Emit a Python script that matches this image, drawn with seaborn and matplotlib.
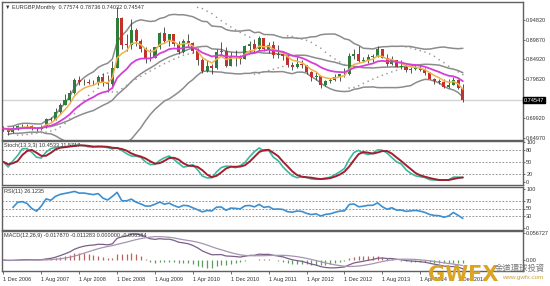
import numpy as np
import pandas as pd
import matplotlib
matplotlib.use("Agg")
import matplotlib.pyplot as plt
import seaborn as sns

# ---------------- data (EURGBP monthly, Dec 2006 .. Jan 2015) ----------------
months = pd.date_range("2006-12-01", "2015-01-01", freq="MS")

opens = [0.6740,
         0.6736, 0.6640, 0.6737, 0.6800, 0.6810, 0.6795, 0.6746, 0.6712, 0.6780, 0.6970, 0.6950, 0.7150,
         0.7340, 0.7470, 0.7640, 0.7960, 0.7910, 0.7920, 0.7900, 0.7880, 0.8050, 0.7920, 0.7860, 0.8260,
         0.9530, 0.8860, 0.8850, 0.9240, 0.8950, 0.8760, 0.8520, 0.8530, 0.8790, 0.9160, 0.8950, 0.9120,
         0.8870, 0.8680, 0.8950, 0.8900, 0.8690, 0.8460, 0.8180, 0.8320, 0.8270, 0.8680, 0.8700, 0.8330,
         0.8580, 0.8540, 0.8490, 0.8830, 0.8870, 0.8750, 0.9030, 0.8760, 0.8850, 0.8590, 0.8610, 0.8570,
         0.8340, 0.8300, 0.8380, 0.8340, 0.8160, 0.8030, 0.8070, 0.7840, 0.7930, 0.7960, 0.8040, 0.8110,
         0.8120, 0.8560, 0.8610, 0.8440, 0.8480, 0.8550, 0.8550, 0.8740, 0.8530, 0.8360, 0.8470, 0.8300,
         0.8300, 0.8210, 0.8240, 0.8260, 0.8220, 0.8140, 0.8000, 0.7930, 0.7910, 0.7790, 0.7830, 0.7960,
         0.77574]
highs = [0.6790,
         0.6760, 0.6790, 0.6830, 0.6850, 0.6860, 0.6830, 0.6780, 0.6830, 0.6990, 0.7040, 0.7250, 0.7390,
         0.7620, 0.7700, 0.8020, 0.8070, 0.8000, 0.7990, 0.7970, 0.8100, 0.8140, 0.8100, 0.8450, 0.9800,
         0.9570, 0.9120, 0.9500, 0.9270, 0.9000, 0.8790, 0.8760, 0.8800, 0.9190, 0.9310, 0.9140, 0.9130,
         0.8940, 0.8990, 0.9140, 0.8930, 0.8770, 0.8520, 0.8480, 0.8380, 0.8750, 0.8920, 0.8790, 0.8660,
         0.8720, 0.8600, 0.8850, 0.8960, 0.9000, 0.9080, 0.9020, 0.8920, 0.8940, 0.8860, 0.8700, 0.8600,
         0.8430, 0.8540, 0.8470, 0.8330, 0.8200, 0.8170, 0.8050, 0.7970, 0.8020, 0.8110, 0.8120, 0.8260,
         0.8640, 0.8750, 0.8815, 0.8540, 0.8610, 0.8620, 0.8815, 0.8730, 0.8620, 0.8570, 0.8480, 0.8460,
         0.8380, 0.8290, 0.8380, 0.8340, 0.8270, 0.8160, 0.8020, 0.8000, 0.7990, 0.7980, 0.8030, 0.7990,
         0.78736]
lows = [0.6680,
        0.6570, 0.6620, 0.6700, 0.6750, 0.6760, 0.6700, 0.6680, 0.6690, 0.6760, 0.6920, 0.6940, 0.7110,
        0.7320, 0.7370, 0.7620, 0.7840, 0.7830, 0.7850, 0.7840, 0.7840, 0.7820, 0.7660, 0.7770, 0.8280,
        0.8740, 0.8690, 0.8760, 0.8820, 0.8670, 0.8390, 0.8440, 0.8520, 0.8750, 0.8890, 0.8820, 0.8830,
        0.8620, 0.8640, 0.8830, 0.8640, 0.8340, 0.8130, 0.8160, 0.8110, 0.8250, 0.8600, 0.8300, 0.8310,
        0.8330, 0.8360, 0.8490, 0.8680, 0.8670, 0.8730, 0.8700, 0.8640, 0.8530, 0.8530, 0.8480, 0.8300,
        0.8220, 0.8280, 0.8280, 0.8120, 0.7950, 0.7970, 0.7760, 0.7800, 0.7880, 0.7930, 0.7950, 0.8040,
        0.8080, 0.8500, 0.8420, 0.8410, 0.8400, 0.8430, 0.8540, 0.8520, 0.8330, 0.8350, 0.8290, 0.8240,
        0.8160, 0.8150, 0.8220, 0.8200, 0.8080, 0.7990, 0.7860, 0.7870, 0.7760, 0.7760, 0.7840, 0.7740,
        0.74032]
closes = [0.6736,
          0.6640, 0.6737, 0.6800, 0.6810, 0.6795, 0.6746, 0.6712, 0.6780, 0.6970, 0.6950, 0.7150, 0.7340,
          0.7470, 0.7640, 0.7960, 0.7910, 0.7920, 0.7900, 0.7880, 0.8050, 0.7920, 0.7860, 0.8260, 0.9530,
          0.8860, 0.8850, 0.9240, 0.8950, 0.8760, 0.8520, 0.8530, 0.8790, 0.9160, 0.8950, 0.9120, 0.8870,
          0.8680, 0.8950, 0.8900, 0.8690, 0.8460, 0.8180, 0.8320, 0.8270, 0.8680, 0.8700, 0.8330, 0.8580,
          0.8540, 0.8490, 0.8830, 0.8870, 0.8750, 0.9030, 0.8760, 0.8850, 0.8590, 0.8610, 0.8570, 0.8340,
          0.8300, 0.8380, 0.8340, 0.8160, 0.8030, 0.8070, 0.7840, 0.7930, 0.7960, 0.8040, 0.8110, 0.8120,
          0.8560, 0.8610, 0.8440, 0.8480, 0.8550, 0.8550, 0.8740, 0.8530, 0.8360, 0.8470, 0.8300, 0.8300,
          0.8210, 0.8240, 0.8260, 0.8220, 0.8140, 0.8000, 0.7930, 0.7910, 0.7790, 0.7830, 0.7960, 0.77574,
          0.74547]

tick_labels = ["1 Dec 2006", "1 Aug 2007", "1 Apr 2008", "1 Dec 2008", "1 Aug 2009",
               "1 Apr 2010", "1 Dec 2010", "1 Aug 2011", "1 Apr 2012", "1 Dec 2012",
               "1 Aug 2013", "1 Apr 2014", "1 Dec 2014"]
price_ticks = [0.94820, 0.89870, 0.84920, 0.79820, 0.69920, 0.64970]
last_price = 0.74547

# ---------------- indicators ----------------
df = pd.DataFrame({"date": months, "open": opens, "high": highs, "low": lows, "close": closes})
df["i"] = np.arange(len(df))
c, h, l = df["close"], df["high"], df["low"]

mid = c.rolling(20, min_periods=2).mean()
sd = c.rolling(20, min_periods=2).std(ddof=0)
df["bb_up"], df["bb_mid"], df["bb_lo"] = mid + 2 * sd, mid, mid - 2 * sd
df["ma_fast"] = c.ewm(span=5, adjust=False).mean()
df["ma_slow"] = c.ewm(span=13, adjust=False).mean()


def psar(hh, ll, step=0.02, mx=0.2):
    hh, ll = np.asarray(hh), np.asarray(ll)
    n = len(hh)
    out = np.full(n, np.nan)
    bull, af, ep = True, step, hh[0]
    out[0] = ll[0]
    for k in range(1, n):
        s = out[k - 1] + af * (ep - out[k - 1])
        if bull:
            s = min(s, ll[k - 1], ll[max(k - 2, 0)])
            if ll[k] < s:
                bull, s, ep, af = False, ep, ll[k], step
            elif hh[k] > ep:
                ep, af = hh[k], min(af + step, mx)
        else:
            s = max(s, hh[k - 1], hh[max(k - 2, 0)])
            if hh[k] > s:
                bull, s, ep, af = True, ep, hh[k], step
            elif ll[k] < ep:
                ep, af = ll[k], min(af + step, mx)
        out[k] = s
    return out


df["sar"] = psar(h, l)

ll13 = l.rolling(13, min_periods=1).min()
hh13 = h.rolling(13, min_periods=1).max()
num = (c - ll13).rolling(3, min_periods=1).sum()
den = (hh13 - ll13).rolling(3, min_periods=1).sum()
df["stoch"] = 100 * num / den.replace(0, np.nan)
df["stoch_sig"] = df["stoch"].rolling(3, min_periods=1).mean()

d = c.diff()
up = d.clip(lower=0).ewm(alpha=1 / 11, adjust=True, min_periods=2).mean()
dn = (-d.clip(upper=0)).ewm(alpha=1 / 11, adjust=True, min_periods=2).mean()
df["rsi"] = 100 - 100 / (1 + up / dn.replace(0, np.nan))

df["macd"] = c.ewm(span=12, adjust=False).mean() - c.ewm(span=26, adjust=False).mean()
df["macd_sig"] = df["macd"].rolling(9, min_periods=1).mean()
df["osma"] = df["macd"] - df["macd_sig"]

# ---------------- figure ----------------
sns.set_style("white")
plt.rcParams["font.family"] = ["Liberation Sans", "DejaVu Sans"]
FS = 4.0
W, H = 550, 286
fig = plt.figure(figsize=(W / 100, H / 100), dpi=100)


def px_axes(x0, y0, x1, y1):
    return fig.add_axes([x0 / W, 1 - y1 / H, (x1 - x0) / W, (y1 - y0) / H])


ax_p = px_axes(2, 2, 523, 140)
ax_s = px_axes(2, 141, 523, 185)
ax_r = px_axes(2, 187, 523, 230)
ax_m = px_axes(2, 231, 523, 271)
xlim = (-0.3, 109.7)

for ax in (ax_p, ax_s, ax_r, ax_m):
    ax.set_xlim(*xlim)
    ax.set_facecolor("white")
    for sp in ax.spines.values():
        sp.set_color("#606060")
        sp.set_linewidth(1.0)
    ax.yaxis.tick_right()
    ax.tick_params(axis="y", which="both", length=1.5, width=0.5, pad=0.8,
                   labelsize=FS, colors="#333333", right=True, left=False)
    ax.tick_params(axis="x", length=0, labelbottom=False)
    ax.set_xlabel("")
    ax.set_ylabel("")

idx = df["i"].values

# ---- price panel ----
ax_p.set_ylim(0.6446, 0.9937)
ax_p.axhline(last_price, color="#d4d4d4", lw=1.0, zorder=1)
for col in ("bb_up", "bb_mid", "bb_lo"):
    sns.lineplot(x=idx, y=df[col].values, ax=ax_p, color="#8c8c8c", lw=1.1,
                 estimator=None, sort=False, legend=False, zorder=2)
sns.scatterplot(x=idx, y=df["sar"].values, ax=ax_p, s=1.4, color="#9a9a9a",
                edgecolor="none", legend=False, zorder=2)
bull = df["close"] >= df["open"]
body_lo = np.minimum(df["open"], df["close"])
body_h = np.maximum(np.abs(df["close"] - df["open"]), 0.0012)
ax_p.vlines(idx, df["low"], df["high"], color="#3a3a3a", lw=0.6, zorder=3)
ax_p.bar(idx, body_h, bottom=body_lo, width=0.64,
         color=np.where(bull, "#2f7d3a", "#c4302b"), edgecolor="none", zorder=4)
sns.lineplot(x=idx, y=df["ma_fast"].values, ax=ax_p, color="#f0b24e", lw=1.1,
             estimator=None, sort=False, legend=False, zorder=5)
sns.lineplot(x=idx, y=df["ma_slow"].values, ax=ax_p, color="#d63fd6", lw=1.3,
             estimator=None, sort=False, legend=False, zorder=6)
ax_p.set_yticks(price_ticks)
ax_p.set_yticklabels([f"{v:.5f}" for v in price_ticks])
ax_p.text(0.005, 0.975, "\u25bc EURGBP,Monthly  0.77574 0.78736 0.74032 0.74547",
          transform=ax_p.transAxes, fontsize=FS, color="#333333", va="top", ha="left",
          family=["Liberation Sans", "DejaVu Sans"])
ax_p.text(1.002, (last_price - 0.6446) / (0.9937 - 0.6446), f"{last_price:.5f}",
          transform=ax_p.transAxes, fontsize=FS, color="white", va="center", ha="left",
          bbox=dict(boxstyle="square,pad=0.15", fc="black", ec="black"), clip_on=False)

# ---- stochastic ----
ax_s.set_ylim(-7, 103)
for lv in (80, 50, 20):
    ax_s.axhline(lv, color="#808080", lw=0.6, ls=(0, (2, 2)), zorder=1)
sns.lineplot(x=idx, y=df["stoch"].values, ax=ax_s, color="#3cb8a0", lw=1.2,
             estimator=None, sort=False, legend=False, zorder=3)
sns.lineplot(x=idx, y=df["stoch_sig"].values, ax=ax_s, color="#a21f2e", lw=1.4,
             estimator=None, sort=False, legend=False, zorder=4)
ax_s.set_yticks([0, 20, 50, 80, 100])
ax_s.set_yticklabels(["0", "20", "50", "80", "100"])
ax_s.text(0.004, 0.95, "Stoch(13,3,3) 10.4533 11.5717", transform=ax_s.transAxes,
          fontsize=FS, color="#333333", va="top", ha="left")

# ---- RSI ----
ax_r.set_ylim(-4, 104)
for lv in (70, 50, 30):
    ax_r.axhline(lv, color="#808080", lw=0.6, ls=(0, (2, 2)), zorder=1)
sns.lineplot(x=idx, y=df["rsi"].values, ax=ax_r, color="#3d8fd0", lw=1.2,
             estimator=None, sort=False, legend=False, zorder=3)
ax_r.set_yticks([0, 30, 50, 70, 100])
ax_r.set_yticklabels(["0", "30", "50", "70", "100"])
ax_r.text(0.004, 0.95, "RSI(11) 26.1235", transform=ax_r.transAxes,
          fontsize=FS, color="#333333", va="top", ha="left")

# ---- MACD ----
ax_m.set_ylim(-0.0225, 0.0600)
hist = df["osma"].values
ax_m.vlines(idx, 0, hist, colors=np.where(hist >= 0, "#c0605a", "#5e9a5e"), lw=0.9, zorder=2)
sns.lineplot(x=idx, y=df["macd"].values, ax=ax_m, color="#7a5f88", lw=0.9,
             estimator=None, sort=False, legend=False, zorder=3)
sns.lineplot(x=idx, y=df["macd_sig"].values, ax=ax_m, color="#a594b2", lw=0.9,
             estimator=None, sort=False, legend=False, zorder=3)
ax_m.set_yticks([0.0, 0.056727])
ax_m.set_yticklabels(["0.00", "0.056727"])
ax_m.text(0.004, 0.95, "MACD(12,26,9) -0.017870 -0.011283 0.000000 -0.006584",
          transform=ax_m.transAxes, fontsize=FS, color="#333333", va="top", ha="left")
ax_m.set_xticks(list(range(0, 97, 8)))
ax_m.set_xticklabels(tick_labels, ha="left")
ax_m.tick_params(axis="x", length=2, width=0.5, pad=2, labelsize=FS,
                 colors="#333333", labelbottom=True, bottom=True)

# ---- watermark ----
fig.text(428 / W, 1 - 281 / H, "GWFX", fontsize=15, fontweight="bold", color="#d9a522",
         ha="left", va="baseline", family=["DejaVu Sans"])
fig.text(495 / W, 1 - 268 / H, "金道環球投資", fontsize=6, color="#7a7a7a",
         ha="left", va="center", family=["Noto Sans CJK TC", "DejaVu Sans"])
fig.text(502 / W, 1 - 277 / H, "www.gwfx.com", fontsize=4.5, color="#c9a23e",
         ha="left", va="center")

fig.savefig("out.png", dpi=100)
